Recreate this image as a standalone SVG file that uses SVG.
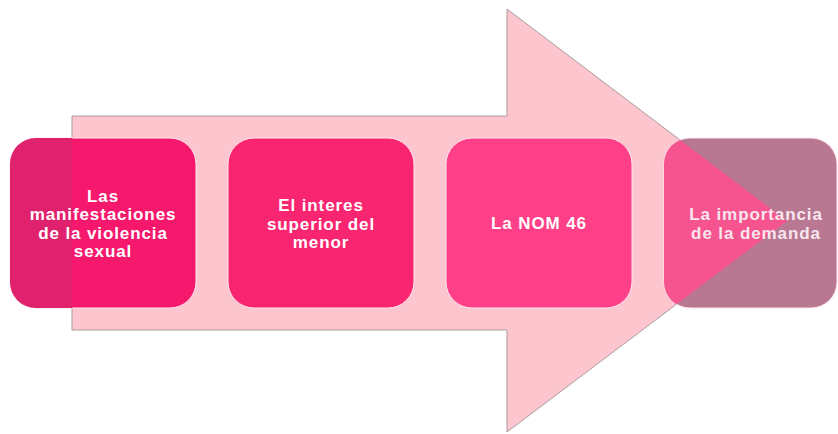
<svg xmlns="http://www.w3.org/2000/svg" width="838" height="434" viewBox="0 0 838 434">
<defs>
<style>
.box{stroke:#ffe6ee;stroke-width:1}
.t{font-family:"Liberation Sans",Arial,sans-serif;font-size:17px;font-weight:bold;fill:#ffffff;text-anchor:middle;letter-spacing:0.9px}
.t4{font-family:"Liberation Sans",Arial,sans-serif;font-size:17px;font-weight:bold;fill:#f8e6ee;text-anchor:middle;letter-spacing:0.9px}
</style>
<clipPath id="c1"><rect x="10" y="138" width="186" height="170" rx="26"/></clipPath>
<clipPath id="c4"><rect x="664" y="138" width="173" height="170" rx="26"/></clipPath>
</defs>
<rect width="838" height="434" fill="#ffffff"/>
<g id="arrow">
<polygon points="72,116 507,116 507,9 787,221 507,432 507,330 72,330" fill="#fdc5ce" stroke="#a99c9c" stroke-width="1"/>
</g>
<g id="node1">
<rect class="box" x="10" y="138" width="186" height="170" rx="26" fill="#f5186c"/>
<rect x="10" y="138" width="62" height="170" fill="#e0226e" clip-path="url(#c1)"/>
<text class="t" x="103" y="201.5">Las</text>
<text class="t" x="103" y="220">manifestaciones</text>
<text class="t" x="103" y="238.5">de la violencia</text>
<text class="t" x="103" y="257">sexual</text>
</g>
<g id="node2">
<rect class="box" x="228" y="138" width="186" height="170" rx="26" fill="#fa2570"/>
<text class="t" x="321" y="211">El interes</text>
<text class="t" x="321" y="229.5">superior del</text>
<text class="t" x="321" y="248">menor</text>
</g>
<g id="node3">
<rect class="box" x="446" y="138" width="186" height="170" rx="26" fill="#ff3f87"/>
<text class="t" x="539" y="229">La NOM 46</text>
</g>
<g id="node4">
<rect class="box" x="664" y="138" width="173" height="170" rx="26" fill="#b87892"/>
<polygon points="507,9 787,221 507,432" fill="#f5548e" clip-path="url(#c4)"/>
<text class="t4" x="756" y="220">La importancia</text>
<text class="t4" x="756" y="239">de la demanda</text>
</g>
</svg>
